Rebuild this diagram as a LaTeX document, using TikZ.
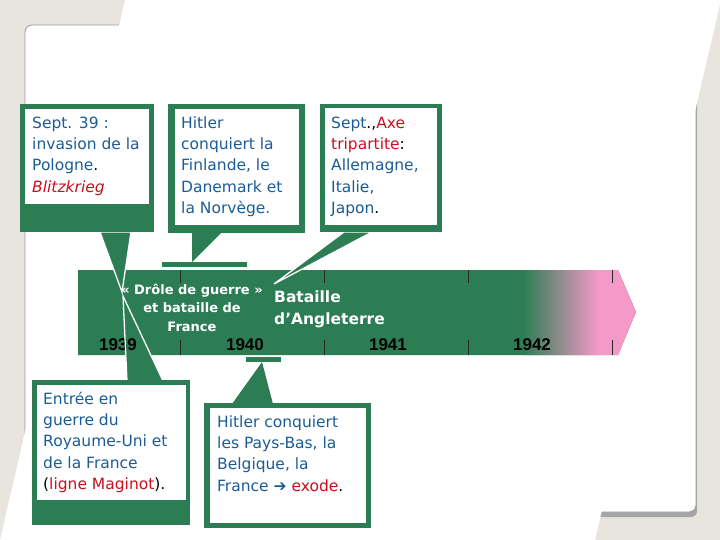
\documentclass[tikz,border=0pt]{standalone}
\usepackage{fontspec}
\setmainfont{DejaVu Sans}
\newfontfamily\yearfont{Liberation Sans}
\usetikzlibrary{positioning}
\definecolor{tlgreen}{RGB}{44,125,84}
\definecolor{tlblue}{RGB}{28,92,150}
\definecolor{tlred}{RGB}{200,16,30}
\definecolor{tlpink}{RGB}{245,153,200}
\definecolor{tlgray}{RGB}{140,128,124}
\definecolor{pagebg}{RGB}{232,228,222}
\newcommand{\blk}[1]{\textcolor{black}{#1}}
\newcommand{\rd}[1]{\textcolor{tlred}{#1}}
\tikzset{
  boxtxt/.style   = {anchor=north west, inner sep=0pt, align=left, text=tlblue,
                     font=\fontsize{15.5}{21.3}\selectfont},
  bartxt/.style   = {inner sep=0pt, text=white,
                     font=\bfseries\fontsize{13}{18.5}\selectfont},
  yearlbl/.style  = {anchor=base, inner sep=0pt,
                     font=\yearfont\bfseries\fontsize{17}{17}\selectfont},
  pfill/.style    = {fill=tlgreen},
  pline/.style    = {draw=white, line width=1.3pt},
  boxframe/.style = {fill=tlgreen},
  boxinner/.style = {fill=white}
}

\begin{document}
\begin{tikzpicture}[x=1pt,y=-1pt]
  \useasboundingbox (0,0) rectangle (720,540);
  % page behind the slide
  \fill[pagebg] (0,0) rectangle (720,540);
  \fill[black!35, rounded corners=6pt] (30,30) rectangle (697,517);
  \filldraw[fill=white, draw=black!40, line width=0.8pt, rounded corners=7pt]
    (25,25) rectangle (696,512);
  \fill[white] (125,0) -- (721,0) -- (595,540) -- (0,540) -- cycle;

  % time line
  \fill[tlgreen] (78,270) -- (618,270) -- (636,312) -- (618,355) -- (78,355) -- cycle;
  \begin{scope}
    \clip (78,270) -- (618,270) -- (636,312) -- (618,355) -- (78,355) -- cycle;
    \shade[left color=tlgreen, middle color=tlgray, right color=tlpink]
      (523,270) rectangle (598,355);
    \fill[tlpink] (597.5,270) rectangle (640,355);
  \end{scope}
  \foreach \x in {180,324,468,612}
    \draw[black!85, line width=0.8pt] (\x,270) -- (\x,283) (\x,340) -- (\x,355);

  % pointer corners
  \coordinate (p1a) at (100,232); \coordinate (p1b) at (131,232); \coordinate (p1c) at (122,292);
  \coordinate (p4a) at (123,296); \coordinate (p4b) at (163,381); \coordinate (p4c) at (127,381);
  \coordinate (p3a) at (344,232); \coordinate (p3b) at (372,232); \coordinate (p3c) at (274,284);
  \path[pfill] (p1a) -- (p1b) -- (p1c) -- cycle;
  \path[pfill] (p4a) -- (p4b) -- (p4c) -- cycle;
  \path[pfill] (p3a) -- (p3b) -- (p3c) -- cycle;

  \node[yearlbl] (y39) at (118,350) {1939};
  \node[yearlbl] (y40) at (245,350) {1940};
  \node[yearlbl] (y41) at (388,350) {1941};
  \node[yearlbl] (y42) at (532,350) {1942};

  \node[bartxt, align=center, anchor=north] (drole) at (192,281)
    {\strut« Drôle de guerre »\\et bataille de\\France};
  \node[bartxt, align=left, anchor=north west,
        font=\bfseries\fontsize{15.5}{22}\selectfont] (angleterre) at (274,286.6)
    {\strut Bataille\\d’Angleterre};

  \path[pline] (p1a) -- (p1b) -- (p1c) -- cycle;
  \path[pline] (p4a) -- (p4b) -- (p4c) -- cycle;
  \path[pline] (p3a) -- (p3b) -- (p3c) -- cycle;
  \path[pfill] (192,232) -- (222,232) -- (192,262) -- cycle;
  \fill[tlgreen] (162,262) rectangle (247,267);
  \fill[tlgreen] (246,357) rectangle (281,362);
  \path[pfill] (262,362) -- (273,404) -- (232,404) -- cycle;

  % boxes
  \fill[boxframe] (20,104) rectangle (154,232);
  \fill[boxinner] (25,109) rectangle (149,204);
  \node[boxtxt] (pologne) at (32,113)
    {\strut Sept. 39 :\\invasion de la\\Pologne\blk{.}\\\rd{\itshape Blitzkrieg}};

  \fill[boxframe] (168,104) rectangle (305,233);
  \fill[boxinner] (175,109) rectangle (299,225);
  \node[boxtxt] (norvege) at (181,113)
    {\strut Hitler\\conquiert la\\Finlande, le\\Danemark et\\la Norvège.};

  \fill[boxframe] (320,104) rectangle (442,232);
  \fill[boxinner] (325,108) rectangle (437,225);
  \node[boxtxt] (axe) at (331,113)
    {\strut Sept\blk{.,}\rd{Axe}\\\rd{tripartite}\blk{ :}\\Allemagne,\\Italie,\\Japon\blk{.}};

  \fill[boxframe] (32,380) rectangle (190,525);
  \fill[boxinner] (37,385) rectangle (186,500);
  \node[boxtxt] (maginot) at (43,389)
    {\strut Entrée en\\guerre du\\Royaume-Uni et\\de la France\\\blk{(}\rd{ligne Maginot}\blk{).}};

  \fill[boxframe] (204,403) rectangle (371,528);
  \fill[boxinner] (210,408) rectangle (366,523);
  \node[boxtxt] (exode) at (217,412)
    {\strut Hitler conquiert\\les Pays-Bas, la\\Belgique, la\\France ➔ \rd{exode}\blk{.}};
\end{tikzpicture}
\end{document}
